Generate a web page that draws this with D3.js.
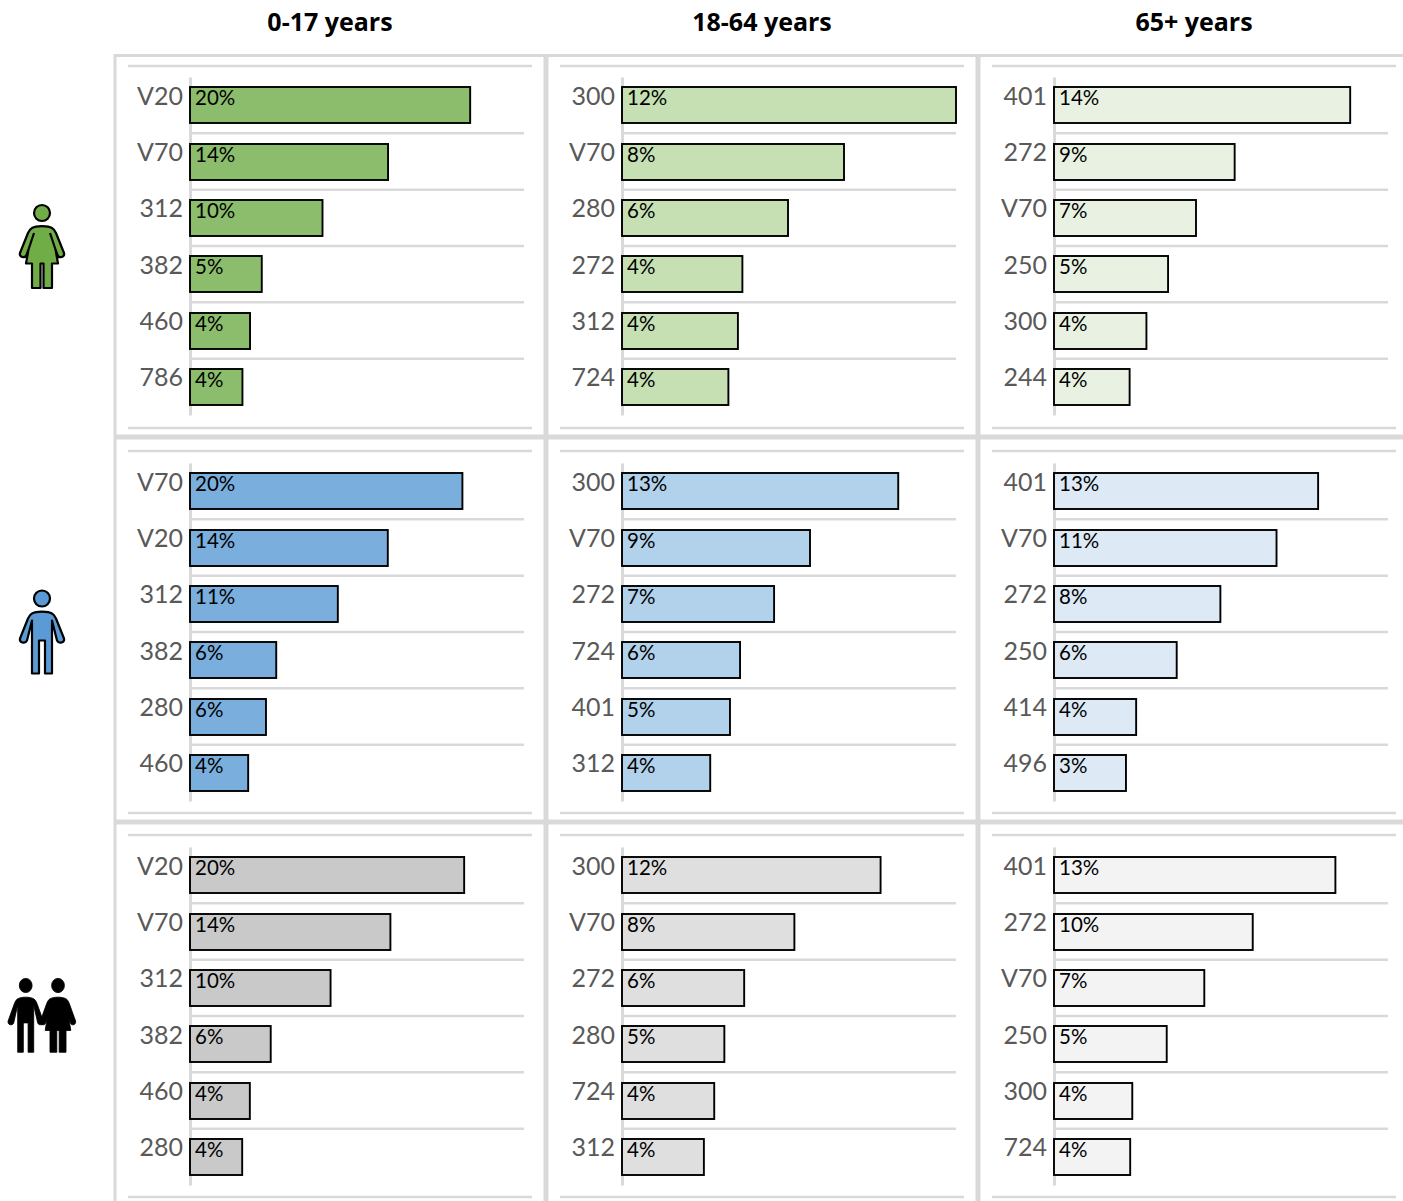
<!DOCTYPE html>
<html>
<head>
<meta charset="utf-8">
<title>Top diagnosis codes by sex and age group</title>
<script src="https://cdn.jsdelivr.net/npm/d3@7"></script>
<style>
  html, body { margin: 0; padding: 0; background: #fff; }
  svg { display: block; }
</style>
</head>
<body>
<svg id="chart" width="1403" height="1201"></svg>
<script>
// Age groups across the top, one column of panels each
const ageGroups = ["0-17 years", "18-64 years", "65+ years"];

// Diagnosis codes per panel: one inner list per age group
const femaleCodes = [
  ["V20", "V70", "312", "382", "460", "786"],
  ["300", "V70", "280", "272", "312", "724"],
  ["401", "272", "V70", "250", "300", "244"]
];
const maleCodes = [
  ["V70", "V20", "312", "382", "280", "460"],
  ["300", "V70", "272", "724", "401", "312"],
  ["401", "V70", "272", "250", "414", "496"]
];
const allCodes = [
  ["V20", "V70", "312", "382", "460", "280"],
  ["300", "V70", "272", "280", "724", "312"],
  ["401", "272", "V70", "250", "300", "724"]
];

// Share of visits in percent, same ordering as the code lists
const femaleShares = [
  [20.3, 14.35, 9.6, 5.2, 4.35, 3.8],
  [11.93, 7.93, 5.93, 4.3, 4.14, 3.8],
  [14.1, 8.6, 6.76, 5.43, 4.4, 3.6]
];
const maleShares = [
  [19.9, 14.45, 10.8, 6.3, 5.55, 4.25],
  [13.15, 8.95, 7.24, 5.62, 5.14, 4.2],
  [12.7, 10.7, 8.0, 5.9, 3.95, 3.46]
];
const allShares = [
  [19.7, 14.4, 10.1, 5.8, 4.3, 3.75],
  [12.0, 8.0, 5.67, 4.75, 4.28, 3.8],
  [13.48, 9.52, 7.2, 5.4, 3.75, 3.65]
];

// Upper end of each panel's value axis, in percent
const femaleAxisMax = [24.2, 11.93, 15.9];
const maleAxisMax = [24.4, 15.9, 16.06];
const allAxisMax = [24.0, 15.5, 16.0];

// Fill for the bars, darkest for the youngest group
const femaleFills = ["#8CBD6C", "#C6E0B4", "#E9F2E2"];
const maleFills = ["#7AAEDD", "#B2D1EA", "#DDE9F5"];
const allFills = ["#C9C9C9", "#DFDFDF", "#F3F3F3"];

const rowsData = [
  { codes: femaleCodes, shares: femaleShares, axisMax: femaleAxisMax, fills: femaleFills },
  { codes: maleCodes, shares: maleShares, axisMax: maleAxisMax, fills: maleFills },
  { codes: allCodes, shares: allShares, axisMax: allAxisMax, fills: allFills }
];

// Panel geometry
const columnLeft = [190, 622, 1054];
const rowTop = [77, 463, 847];
const plotWidth = 334;
const plotHeight = 338;
const ruleGrey = "#D9D9D9";

const svg = d3.select("#chart");

// Frame and dividers between the panels
const frame = svg.append("g").attr("stroke", ruleGrey).attr("fill", "none");
frame.append("line").attr("x1", 115).attr("x2", 115).attr("y1", 54).attr("y2", 1201).attr("stroke-width", 3);
frame.append("line").attr("x1", 114).attr("x2", 1403).attr("y1", 55.5).attr("y2", 55.5).attr("stroke-width", 3);
[546, 978].forEach(x => frame.append("line").attr("x1", x).attr("x2", x).attr("y1", 54).attr("y2", 1201).attr("stroke-width", 5));
[437, 822].forEach(y => frame.append("line").attr("x1", 114).attr("x2", 1403).attr("y1", y).attr("y2", y).attr("stroke-width", 5));

// Column headings
svg.append("g").selectAll("text").data(ageGroups).join("text")
  .attr("x", (d, i) => columnLeft[i] + 140)
  .attr("y", 31)
  .attr("text-anchor", "middle")
  .attr("font-family", "'Open Sans', sans-serif")
  .attr("font-weight", 700)
  .attr("font-size", 25)
  .attr("fill", "#000")
  .text(d => d);

rowsData.forEach((row, r) => {
  ageGroups.forEach((group, c) => {
    const panel = svg.append("g")
      .attr("transform", `translate(${columnLeft[c]},${rowTop[r]})`);

    const rows = row.codes[c].map((code, i) => ({ code, share: row.shares[c][i] }));
    const y = d3.scaleBand().domain(row.codes[c]).range([0, plotHeight]);
    const x = d3.scaleLinear().domain([0, row.axisMax[c]]).range([0, plotWidth]);
    const barHeight = 36;
    const barTop = d => Math.round(y(d.code) + (y.bandwidth() - barHeight) / 2);

    // Long rules above and below the plot
    [r === 0 ? -11 : -12, r === 0 ? plotHeight + 13 : plotHeight + 12].forEach(ruleY => {
      panel.append("line")
        .attr("x1", -62).attr("x2", plotWidth + 8)
        .attr("y1", ruleY).attr("y2", ruleY)
        .attr("stroke", ruleGrey).attr("stroke-width", 2.5);
    });

    // Rules between the categories
    panel.append("g").selectAll("line").data(row.codes[c].slice(1)).join("line")
      .attr("x1", 0).attr("x2", plotWidth)
      .attr("y1", d => y(d)).attr("y2", d => y(d))
      .attr("stroke", ruleGrey).attr("stroke-width", 2.5);

    // Category axis
    const axis = panel.append("g").call(
      d3.axisLeft(y).tickSize(0).tickPadding(7)
    );
    axis.select(".domain").attr("stroke", ruleGrey).attr("stroke-width", 3);
    axis.selectAll("text")
      .attr("font-family", "Lato, sans-serif")
      .attr("font-size", 25)
      .attr("fill", "#595959")
      .attr("dy", "-0.02em");

    // Bars
    panel.append("g").selectAll("rect").data(rows).join("rect")
      .attr("x", 0)
      .attr("y", barTop)
      .attr("width", d => x(d.share))
      .attr("height", barHeight)
      .attr("fill", row.fills[c])
      .attr("stroke", "#000")
      .attr("stroke-width", 1.9);

    // Percentage labels inside the bars
    panel.append("g").selectAll("text").data(rows).join("text")
      .attr("x", 5)
      .attr("y", d => barTop(d) + 18)
      .attr("font-family", "Lato, sans-serif")
      .attr("font-size", 20.5)
      .attr("fill", "#000")
      .text(d => Math.round(d.share) + "%");
  });
});

// Pictograms, outlines drawn relative to the centre of the head
const womanOutline = "M-10,15 C-6,12.5 6,12.5 10,15 C12,16 13,18 14,20 L22,40 C23,44 17,46 15.5,42 L13.5,36.5 L16,50.5 L10,50.5 L10,75 L1.5,75 L1.5,50.5 L-1.5,50.5 L-1.5,75 L-10,75 L-10,50.5 L-16,50.5 L-13.5,36.5 L-15.5,42 C-17,46 -23,44 -22,40 L-14,20 C-13,18 -12,16 -10,15 Z M8,20 L13.5,36.5 M-8,20 L-13.5,36.5";
const manOutline = "M-10,15 C-6,12.5 6,12.5 10,15 C12,16 13,18 14,20 L22,40 C23,44 17,46 15,42 L10,22 L10,75 L3,75 L3,42 L-3,42 L-3,75 L-10,75 L-10,22 L-15,42 C-17,46 -23,44 -22,40 L-14,20 C-13,18 -12,16 -10,15 Z";

function person(outline, cx, cy, scaleX, scaleY, fill, strokeWidth) {
  const g = svg.append("g")
    .attr("transform", `translate(${cx},${cy}) scale(${scaleX},${scaleY})`)
    .attr("fill", fill)
    .attr("stroke", "#000")
    .attr("stroke-width", strokeWidth)
    .attr("stroke-linejoin", "round");
  g.append("circle").attr("r", 8);
  g.append("path").attr("d", outline);
}

person(womanOutline, 42, 213, 1, 1, "#70AD47", 2.2);
person(manOutline, 42, 598.5, 1, 1, "#5B9BD5", 2.2);
person(manOutline, 25.7, 985.5, 0.8, 0.89, "#000", 1);
person(womanOutline, 58, 985.5, 0.8, 0.89, "#000", 1);
</script>
</body>
</html>
